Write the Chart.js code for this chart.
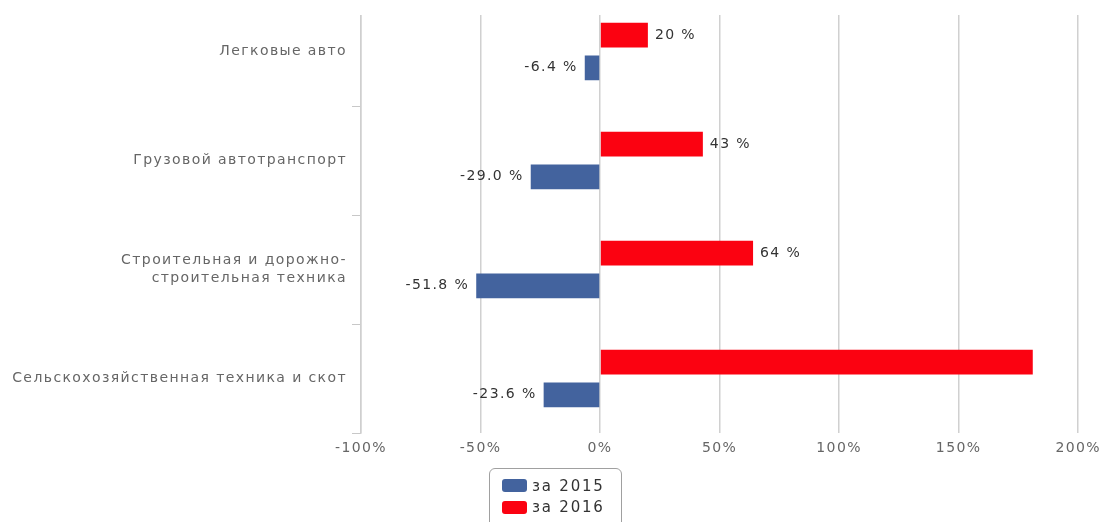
<!DOCTYPE html>
<html lang="ru">
<head>
<meta charset="utf-8">
<title>Изменение объёмов</title>
<script src="https://cdn.jsdelivr.net/npm/chart.js@4"></script>
<style>
    html, body { margin: 0; padding: 0; background: #fff; overflow: hidden; }
    #wrap { position: relative; width: 1108px; height: 522px; overflow: hidden; }
    #box { position: absolute; left: 0; top: -20px; width: 1108px; height: 542px; }
    #legend {
        position: absolute; left: 489px; top: 468px; width: 133px; height: 70px;
        box-sizing: border-box; border: 1px solid #a0a0a0; border-radius: 6px;
        padding: 6px 0 0 12px;
        font: 15px 'DejaVu Sans', sans-serif; color: #333; letter-spacing: 1.8px;
    }
    #legend .item { display: flex; align-items: center; height: 21.5px; }
    #legend .swatch { width: 25px; height: 13px; border-radius: 3px; margin-right: 5px; }
</style>
</head>
<body>
<div id="wrap">
    <div id="box"><canvas id="growthChart"></canvas></div>
    <div id="legend"></div>
</div>
<script>
// Данные
const categories = [
    'Легковые авто',
    'Грузовой автотранспорт',
    ['Строительная и дорожно-', 'строительная техника'],
    'Сельскохозяйственная техника и скот'
];
const growth2015 = [-6.4, -29.0, -51.8, -23.6];
const growth2016 = [20, 43, 64, 181];
const xTicks = [-100, -50, 0, 50, 100, 150, 200];

const FONT = "'DejaVu Sans', sans-serif";
const SPACING = '1.4px';
const GRID_TOP = 35; // линии сетки начинаются чуть ниже верха

// межбуквенный интервал для текста на canvas
const spacingPlugin = {
    id: 'spacing',
    beforeLayout(chart) { chart.ctx.letterSpacing = SPACING; },
    beforeDraw(chart) { chart.ctx.letterSpacing = SPACING; }
};

// обрезаем сетку сверху
const gridTopPlugin = {
    id: 'gridTop',
    beforeDatasetsDraw(chart) {
        const ctx = chart.ctx;
        const area = chart.chartArea;
        ctx.save();
        ctx.fillStyle = '#fff';
        ctx.fillRect(area.left - 12, 0, area.right - area.left + 14, GRID_TOP);
        ctx.restore();
    }
};

// подписи значений у столбцов
const valueLabels = {
    id: 'valueLabels',
    afterDatasetsDraw(chart) {
        const ctx = chart.ctx;
        const area = chart.chartArea;
        ctx.save();
        ctx.font = '14px ' + FONT;
        ctx.letterSpacing = SPACING;
        ctx.fillStyle = '#333';
        ctx.textBaseline = 'middle';
        chart.data.datasets.forEach((ds, di) => {
            const meta = chart.getDatasetMeta(di);
            meta.data.forEach((bar, i) => {
                const v = ds.data[i];
                const text = v.toFixed(ds.labelDigits) + ' %';
                const w = ctx.measureText(text).width;
                if (v >= 0) {
                    const x = bar.x + 7;
                    if (x + w > area.right) return;
                    ctx.textAlign = 'left';
                    ctx.fillText(text, x, bar.y);
                } else {
                    const x = bar.x - 7;
                    if (x - w < area.left) return;
                    ctx.textAlign = 'right';
                    ctx.fillText(text, x, bar.y);
                }
            });
        });
        ctx.restore();
    }
};

const chart = new Chart(document.getElementById('growthChart'), {
    type: 'bar',
    data: {
        labels: categories,
        datasets: [{
            label: 'за 2016',
            data: growth2016,
            backgroundColor: '#fb0211',
            labelDigits: 0
        }, {
            label: 'за 2015',
            data: growth2015,
            backgroundColor: '#43639e',
            labelDigits: 1
        }]
    },
    options: {
        indexAxis: 'y',
        responsive: true,
        maintainAspectRatio: false,
        animation: false,
        categoryPercentage: 0.6,
        barPercentage: 0.76,
        layout: { padding: { left: 0, right: 29, top: 17, bottom: 59 } },
        plugins: {
            legend: { display: false },
            tooltip: { enabled: false }
        },
        scales: {
            x: {
                type: 'linear',
                min: -100,
                max: 200,
                afterBuildTicks: scale => { scale.ticks = xTicks.map(v => ({ value: v })); },
                afterFit: scale => { scale.height = 30; },
                grid: { color: '#d0d0d0', lineWidth: 1.5, drawTicks: false },
                border: { display: false },
                ticks: {
                    padding: 7,
                    color: '#666',
                    font: { size: 14, family: FONT },
                    callback: v => v + '%'
                }
            },
            y: {
                type: 'category',
                afterFit: scale => { scale.width = 361; },
                grid: { drawOnChartArea: false, drawTicks: true, tickLength: 9, color: '#c8c8c8', offset: true },
                border: { display: true, color: '#cfcfcf', width: 1.5 },
                ticks: {
                    padding: 5,
                    color: '#666',
                    font: { size: 14, family: FONT, lineHeight: 1.33 }
                }
            }
        }
    },
    plugins: [spacingPlugin, gridTopPlugin, valueLabels]
});

// легенда: сначала 2015, потом 2016
const legendEl = document.getElementById('legend');
chart.options.plugins.legend.labels.generateLabels(chart).reverse().forEach(item => {
    const row = document.createElement('div');
    row.className = 'item';
    const sw = document.createElement('span');
    sw.className = 'swatch';
    sw.style.background = item.fillStyle;
    const txt = document.createElement('span');
    txt.textContent = item.text;
    row.appendChild(sw);
    row.appendChild(txt);
    legendEl.appendChild(row);
});
</script>
</body>
</html>
